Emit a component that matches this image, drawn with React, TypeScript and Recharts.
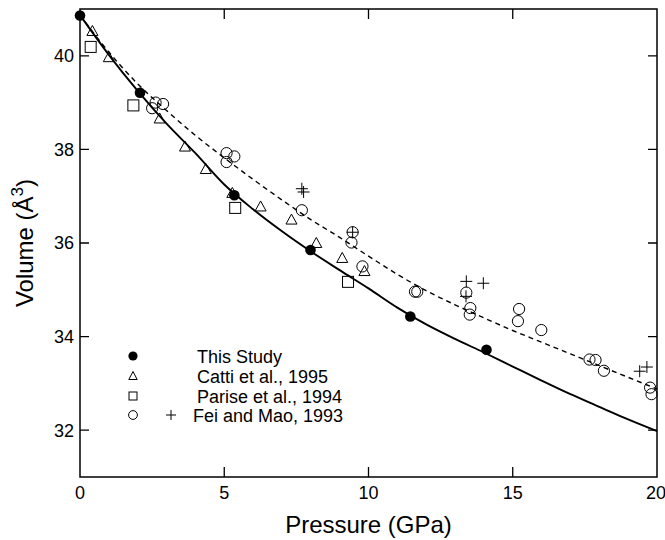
import { ComposedChart, Legend, Line, Scatter, XAxis, YAxis } from "recharts";

type Pt = { p: number; v: number };

const thisStudy: Pt[] = [
  { p: 0, v: 40.86 },
  { p: 2.08, v: 39.21 },
  { p: 5.35, v: 37.02 },
  { p: 7.99, v: 35.85 },
  { p: 11.45, v: 34.43 },
  { p: 14.09, v: 33.72 },
];

const catti1995: Pt[] = [
  { p: 0.43, v: 40.52 },
  { p: 1.0, v: 39.96 },
  { p: 2.76, v: 38.65 },
  { p: 3.64, v: 38.05 },
  { p: 4.36, v: 37.57 },
  { p: 5.28, v: 37.06 },
  { p: 6.26, v: 36.77 },
  { p: 7.33, v: 36.49 },
  { p: 8.19, v: 35.99 },
  { p: 9.09, v: 35.67 },
  { p: 9.86, v: 35.39 },
];

const parise1994: Pt[] = [
  { p: 0.37, v: 40.19 },
  { p: 1.85, v: 38.94 },
  { p: 5.38, v: 36.75 },
  { p: 9.29, v: 35.17 },
];

const feiMaoCircles: Pt[] = [
  { p: 2.5, v: 38.88 },
  { p: 2.62, v: 39.0 },
  { p: 2.88, v: 38.97 },
  { p: 5.08, v: 37.92 },
  { p: 5.35, v: 37.85 },
  { p: 5.08, v: 37.73 },
  { p: 7.69, v: 36.7 },
  { p: 9.45, v: 36.23 },
  { p: 9.41, v: 36.01 },
  { p: 9.79, v: 35.5 },
  { p: 11.61, v: 34.96 },
  { p: 11.69, v: 34.96 },
  { p: 13.39, v: 34.94 },
  { p: 13.53, v: 34.61 },
  { p: 13.51, v: 34.47 },
  { p: 15.22, v: 34.59 },
  { p: 15.18, v: 34.33 },
  { p: 15.99, v: 34.14 },
  { p: 17.66, v: 33.51 },
  { p: 17.87, v: 33.5 },
  { p: 18.16, v: 33.27 },
  { p: 19.76, v: 32.91 },
  { p: 19.81, v: 32.77 },
];

const feiMaoPlus: Pt[] = [
  { p: 7.69, v: 37.16 },
  { p: 7.75, v: 37.09 },
  { p: 9.45, v: 36.23 },
  { p: 13.39, v: 35.18 },
  { p: 13.98, v: 35.14 },
  { p: 13.38, v: 34.86 },
  { p: 19.4, v: 33.26 },
  { p: 19.65, v: 33.35 },
];

// fitted curves
const fitThisStudy: Pt[] = [
  { p: 0, v: 40.87 }, { p: 1, v: 40.02 }, { p: 2, v: 39.25 }, { p: 3, v: 38.55 },
  { p: 4, v: 37.92 }, { p: 5, v: 37.25 }, { p: 6, v: 36.72 }, { p: 7, v: 36.25 },
  { p: 8, v: 35.82 }, { p: 9, v: 35.42 }, { p: 10, v: 35.03 }, { p: 11, v: 34.62 },
  { p: 12, v: 34.26 }, { p: 13, v: 33.95 }, { p: 14, v: 33.66 }, { p: 15, v: 33.36 },
  { p: 16, v: 33.06 }, { p: 17, v: 32.77 }, { p: 18, v: 32.5 }, { p: 19, v: 32.23 },
  { p: 20, v: 31.98 },
];

const fitFeiMao: Pt[] = [
  { p: 0, v: 40.87 }, { p: 1, v: 40.08 }, { p: 2, v: 39.4 }, { p: 3, v: 38.83 },
  { p: 4, v: 38.3 }, { p: 5, v: 37.82 }, { p: 6, v: 37.36 }, { p: 7, v: 36.92 },
  { p: 8, v: 36.5 }, { p: 9, v: 36.12 }, { p: 10, v: 35.72 }, { p: 11, v: 35.33 },
  { p: 12, v: 34.98 }, { p: 13, v: 34.68 }, { p: 14, v: 34.4 }, { p: 15, v: 34.13 },
  { p: 16, v: 33.88 }, { p: 17, v: 33.63 }, { p: 18, v: 33.38 }, { p: 19, v: 33.13 },
  { p: 20, v: 32.88 },
];

const xDomain = [0, 20];
const yDomain = [31, 41];
const xTicks = [0, 5, 10, 15, 20];
const yTicks = [32, 34, 36, 38, 40];

const FONT = "'Liberation Sans', Arial, Helvetica, sans-serif";
const INK = "#000";

// plot box inside the 665x540 chart (matches the margins / axis sizes below)
const BOX = { left: 80, top: 9, width: 577, height: 468 };
const TICK_LEN = 10;

const FilledDot = ({ cx, cy }: any) => <circle cx={cx} cy={cy} r={5.3} fill={INK} />;
const OpenCircle = ({ cx, cy }: any) => <circle cx={cx} cy={cy} r={5.6} fill="none" stroke={INK} strokeWidth={1} />;
const Triangle = ({ cx, cy }: any) => (
  <polygon points={`${cx},${cy - 6} ${cx - 5.5},${cy + 4} ${cx + 5.5},${cy + 4}`} fill="none" stroke={INK} strokeWidth={1} />
);
const Square = ({ cx, cy }: any) => <rect x={cx - 5.5} y={cy - 5.5} width={11} height={11} fill="none" stroke={INK} strokeWidth={1} />;
const Plus = ({ cx, cy }: any) => (
  <path d={`M${cx - 6},${cy}H${cx + 6}M${cx},${cy - 6}V${cy + 6}`} stroke={INK} strokeWidth={1} fill="none" />
);

function XTitle(props: any) {
  const { x, y, width } = props.viewBox;
  return (
    <text x={x + width / 2} y={y + 56} textAnchor="middle" fontSize={24} fontFamily={FONT} fill={INK}>
      Pressure (GPa)
    </text>
  );
}

function YTitle(props: any) {
  const { y, height } = props.viewBox;
  return (
    <text transform={`translate(33,${y + height / 2}) rotate(-90)`} textAnchor="middle" fontSize={24} fontFamily={FONT} fill={INK}>
      Volume (Å
      <tspan dy={-10} fontSize={17}>3</tspan>
      <tspan dy={10}>)</tspan>
    </text>
  );
}

function LegendBox() {
  const rows = [
    { label: "This Study", y: 16, x: 77 },
    { label: "Catti et al., 1995", y: 36, x: 77 },
    { label: "Parise et al., 1994", y: 56, x: 77 },
    { label: "Fei and Mao, 1993", y: 75, x: 73 },
  ];
  return (
    <svg width={260} height={92} style={{ display: "block" }}>
      <circle cx={13} cy={16} r={4.6} fill={INK} />
      <polygon points="13,31.5 8.8,39.5 17.2,39.5" fill="none" stroke={INK} strokeWidth={1} />
      <rect x={9} y={52} width={8} height={8} fill="none" stroke={INK} strokeWidth={1} />
      <circle cx={13} cy={75} r={4.4} fill="none" stroke={INK} strokeWidth={1} />
      <path d="M46,75H56M51,70V80" stroke={INK} strokeWidth={1} />
      {rows.map((r) => (
        <text key={r.label} x={r.x} y={r.y + 6.5} fontSize={18} fontFamily={FONT} fill={INK}>
          {r.label}
        </text>
      ))}
    </svg>
  );
}

// closed frame with inward tick marks, laid over the chart
function Frame() {
  const px = (p: number) => BOX.left + ((p - xDomain[0]) / (xDomain[1] - xDomain[0])) * BOX.width;
  const py = (v: number) => BOX.top + ((yDomain[1] - v) / (yDomain[1] - yDomain[0])) * BOX.height;
  const bottom = BOX.top + BOX.height;
  const right = BOX.left + BOX.width;
  const d: string[] = [];
  xTicks.slice(1, -1).forEach((t) => {
    d.push(`M${px(t)},${bottom}V${bottom - TICK_LEN}`);
    d.push(`M${px(t)},${BOX.top}V${BOX.top + TICK_LEN}`);
  });
  yTicks.forEach((t) => {
    d.push(`M${BOX.left},${py(t)}H${BOX.left + TICK_LEN - 1}`);
    d.push(`M${right},${py(t)}H${right - TICK_LEN + 1}`);
  });
  return (
    <svg width={665} height={540} style={{ position: "absolute", left: 0, top: 0, pointerEvents: "none" }}>
      <rect x={BOX.left} y={BOX.top} width={BOX.width} height={BOX.height} fill="none" stroke={INK} strokeWidth={1.5} />
      <path d={d.join("")} stroke={INK} strokeWidth={1.3} fill="none" />
    </svg>
  );
}

const tickStyle = { fontSize: 18, fontFamily: FONT, fill: INK };

export default function App() {
  return (
    <div style={{ position: "absolute", left: 0, top: 0, width: 665, height: 540, background: "#fff" }}>
      <ComposedChart width={665} height={540} margin={{ top: BOX.top, right: 665 - BOX.left - BOX.width, bottom: 0, left: 0 }}>
        <XAxis dataKey="p" type="number" domain={xDomain} ticks={xTicks} orientation="bottom" height={540 - BOX.top - BOX.height} tickSize={0} tickMargin={9} tick={tickStyle} axisLine={false} tickLine={false} label={XTitle} />
        <YAxis dataKey="v" type="number" domain={yDomain} ticks={yTicks} orientation="left" width={BOX.left} tickSize={0} tickMargin={6} tick={tickStyle} axisLine={false} tickLine={false} label={YTitle} />

        <Line data={fitFeiMao} dataKey="v" type="monotone" stroke={INK} strokeWidth={1.4} strokeDasharray="5 4" dot={false} activeDot={false} isAnimationActive={false} />
        <Line data={fitThisStudy} dataKey="v" type="monotone" stroke={INK} strokeWidth={1.9} dot={false} activeDot={false} isAnimationActive={false} />
        <Scatter data={catti1995} dataKey="v" shape={Triangle} isAnimationActive={false} />
        <Scatter data={parise1994} dataKey="v" shape={Square} isAnimationActive={false} />
        <Scatter data={feiMaoCircles} dataKey="v" shape={OpenCircle} isAnimationActive={false} />
        <Scatter data={feiMaoPlus} dataKey="v" shape={Plus} isAnimationActive={false} />
        <Scatter data={thisStudy} dataKey="v" shape={FilledDot} isAnimationActive={false} />
        <Legend
          layout="vertical"
          align="center"
          verticalAlign="middle"
          wrapperStyle={{ position: "absolute", left: 120, top: 340, width: 260, height: 92 }}
          content={() => <LegendBox />}
        />
      </ComposedChart>
      <Frame />
    </div>
  );
}
